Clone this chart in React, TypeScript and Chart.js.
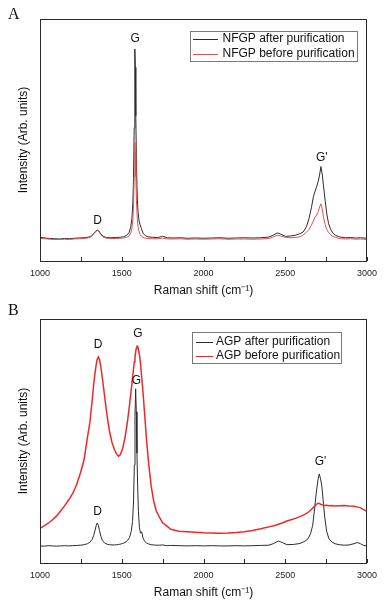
import React, { useEffect, useRef } from 'react';
import { Chart, registerables } from 'chart.js';

Chart.register(...registerables);

// ---------- data ----------
const tickLabels = ['1000', '1500', '2000', '2500', '3000'];

const ramanA = [1000, 1030, 1060, 1090, 1120, 1150, 1180, 1210, 1240, 1270,
  1300, 1315, 1330, 1340, 1350, 1360, 1370, 1385, 1400, 1430,
  1460, 1490, 1510, 1530, 1545, 1555, 1562, 1568, 1572, 1576,
  1579, 1581, 1583, 1586, 1590, 1595, 1600, 1606, 1612, 1620,
  1630, 1645, 1660, 1690, 1720, 1750, 1780, 1820, 1860, 1900,
  1950, 2000, 2050, 2100, 2150, 2200, 2250, 2300, 2350, 2400,
  2430, 2450, 2470, 2500, 2530, 2560, 2590, 2610, 2630, 2645,
  2660, 2672, 2682, 2692, 2702, 2710, 2718, 2726, 2734, 2744,
  2754, 2765, 2778, 2792, 2806, 2825, 2845, 2870, 2900, 2930,
  2960, 3000];

const nfgpAfter = [9.8, 9.5, 9.3, 9.2, 9.1, 9.3, 9.2, 9.4, 9.5, 9.6,
  9.9, 10.4, 11.4, 12.3, 12.8, 12.4, 11.3, 10.3, 9.8, 9.6,
  9.7, 9.8, 10.0, 10.6, 11.8, 14.0, 17.5, 24, 34, 55,
  78, 87.6, 80, 60, 40, 26, 20, 16.5, 15, 13.5,
  11.5, 10.4, 10.0, 9.8, 9.7, 10.2, 9.6, 9.5, 9.6, 9.4,
  9.5, 9.4, 9.5, 9.6, 9.4, 9.5, 9.6, 9.5, 9.6, 9.9,
  10.8, 11.6, 11.2, 10.2, 10.3, 10.6, 11.3, 12.0, 14.2, 17.5,
  22, 26.5, 28.8, 30.7, 33, 35.5, 39, 36, 31, 25,
  19.5, 15.5, 13, 11.5, 10.7, 10.1, 9.8, 9.6, 9.7, 9.5,
  9.6, 9.4];

const nfgpBefore = [9.4, 9.2, 9.0, 8.9, 8.9, 9.0, 8.9, 9.1, 9.2, 9.3,
  9.6, 10.2, 11.2, 12.1, 12.6, 12.2, 11.0, 10.0, 9.5, 9.3,
  9.3, 9.4, 9.5, 9.8, 10.4, 11.5, 13.5, 17, 23, 35,
  46, 49, 45, 35, 25, 17.5, 14, 12, 11, 10.3,
  9.8, 9.4, 9.3, 9.2, 9.2, 9.4, 9.1, 9.1, 9.2, 9.0,
  9.1, 9.0, 9.1, 9.2, 9.0, 9.1, 9.1, 9.0, 9.1, 9.3,
  10.0, 10.6, 10.4, 9.8, 9.6, 9.7, 10.0, 10.8, 11.9, 13.0,
  14.8, 16.5, 18.2, 19.0, 20.5, 22.3, 23.6, 21.5, 18, 15,
  13, 11.8, 10.8, 10.2, 9.8, 9.4, 9.2, 9.1, 9.2, 9.0,
  9.1, 8.9];

const ramanB = [1000, 1025, 1050, 1075, 1100, 1125, 1150, 1175, 1200, 1225,
  1250, 1270, 1290, 1305, 1318, 1328, 1336, 1343, 1350, 1357,
  1364, 1372, 1382, 1395, 1410, 1425, 1440, 1455, 1470, 1480,
  1490, 1505, 1520, 1535, 1548, 1558, 1566, 1572, 1577, 1581,
  1585, 1589, 1593, 1597, 1602, 1608, 1615, 1622, 1630, 1640,
  1652, 1665, 1680, 1695, 1710, 1730, 1750, 1775, 1800, 1850,
  1900, 1950, 2000, 2050, 2100, 2150, 2200, 2250, 2300, 2350,
  2400, 2430, 2458, 2485, 2510, 2550, 2590, 2620, 2640, 2655,
  2668, 2680, 2690, 2700, 2708, 2716, 2724, 2732, 2742, 2754,
  2768, 2785, 2805, 2830, 2860, 2890, 2920, 2940, 2960, 2980,
  3000];

const agpAfter = [7.0, 6.9, 7.1, 7.0, 6.9, 7.0, 7.1, 7.0, 7.1, 7.2,
  7.3, 7.5, 7.9, 8.5, 9.6, 11.2, 13.2, 15.2, 16.4, 15.5,
  13.3, 11.0, 9.2, 8.2, 7.7, 7.5, 7.4, 7.4, 7.5, 7.6,
  7.7, 8.0, 8.4, 9.2, 10.5, 13, 17, 25, 40, 60,
  71.4, 62, 45, 32, 21, 14.5, 12.2, 12.8, 10.2, 8.9,
  8.2, 7.8, 7.5, 7.4, 7.3, 7.3, 7.4, 7.1, 7.2, 7.1,
  7.0, 7.1, 7.0, 7.1, 7.0, 7.0, 7.1, 7.0, 7.1, 7.2,
  7.3, 8.0, 9.0, 8.3, 7.5, 7.6, 8.0, 8.9, 10.0, 12.0,
  15.5, 22.5, 29, 34, 36.5, 34.5, 31.5, 25.5, 18.5, 12.8,
  9.8, 8.6, 7.9, 7.5, 7.3, 7.4, 7.9, 8.4, 7.9, 7.2,
  7.0];

const agpBefore = [14.2, 15.2, 16.3, 17.6, 19.2, 21.2, 23.4, 25.8, 28.5, 32.3,
  37.5, 42.5, 51.5, 57.5, 66, 73, 77.5, 81, 83.5, 84.4,
  83.3, 80.5, 75.5, 68.5, 60.5, 54, 49.5, 46.5, 44.5, 43.8,
  44.3, 46.8, 51.4, 58, 65, 71, 76, 79.5, 82.5, 84.5,
  86.5, 88, 88.8, 88.8, 87.5, 85.5, 81.5, 76, 70, 61,
  50, 40.5, 31.5, 25.5, 21.5, 18.8, 16.5, 15.2, 13.8, 13.0,
  12.8, 12.6, 12.4, 12.3, 12.2, 12.3, 12.5, 12.8, 13.3, 14.0,
  14.8, 15.3, 15.9, 16.5, 17.2, 18.0, 19.0, 19.9, 20.8, 21.6,
  22.5, 23.3, 24.0, 24.5, 24.4, 24.1, 23.9, 23.8, 23.6, 23.7,
  23.5, 23.6, 23.4, 23.5, 23.6, 23.4, 23.3, 23.0, 22.6, 21.9,
  21.2];

const markersA = [
  { text: 'D', x: 1352, y: 16.7 },
  { text: 'G', x: 1582, y: 91.7 },
  { text: "G'", x: 2723, y: 42.8 },
];

const markersB = [
  { text: 'D', x: 1356, y: 89.4 },
  { text: 'G', x: 1599, y: 94.1 },
  { text: 'G', x: 1590, y: 74.8 },
  { text: 'D', x: 1352, y: 20.9 },
  { text: "G'", x: 2716, y: 41.5 },
];

// ---------- rendering ----------
const FONT = '"Liberation Sans", Arial, Helvetica, sans-serif';
const SERIF = '"Liberation Serif", "Times New Roman", serif';

type Series = { label: string; values: number[]; color: string; width: number };
type Marker = { text: string; x: number; y: number };
type LegendLayout = {
  left: number; top: number; right: number; bottom: number;
  rows: number[]; lineX1: number; lineX2: number; textX: number;
};

type PanelProps = {
  letter: string;
  letterBaseline: number;
  xs: number[];
  series: Series[];
  markers: Marker[];
  legend: LegendLayout;
  height: number;
};

function Panel({ letter, letterBaseline, xs, series, markers, legend, height }: PanelProps) {
  const ref = useRef<HTMLCanvasElement>(null);

  useEffect(() => {
    const canvas = ref.current;
    if (!canvas) return;

    const decor = {
      id: 'decor',
      afterDraw(chart: any) {
        const ctx = chart.ctx as CanvasRenderingContext2D;
        const { left, right, top, bottom } = chart.chartArea;
        const xScale = chart.scales.x;
        const yScale = chart.scales.y;
        ctx.save();
        // frame
        ctx.strokeStyle = '#2a2a2a';
        ctx.lineWidth = 1;
        ctx.strokeRect(Math.round(left) + 0.5, Math.round(top) + 0.5,
          Math.round(right - left) - 1, Math.round(bottom - top));
        // inward ticks
        ctx.beginPath();
        for (const t of xScale.ticks) {
          const px = Math.round(xScale.getPixelForValue(t.value)) + 0.5;
          ctx.moveTo(px, Math.round(bottom));
          ctx.lineTo(px, Math.round(bottom) - 4);
        }
        ctx.stroke();
        // markers
        ctx.fillStyle = '#111';
        ctx.font = `12px ${FONT}`;
        ctx.textAlign = 'center';
        ctx.textBaseline = 'middle';
        for (const m of markers) {
          ctx.fillText(m.text, xScale.getPixelForValue(m.x), yScale.getPixelForValue(m.y));
        }
        // legend
        ctx.strokeStyle = '#7a7a7a';
        ctx.lineWidth = 1;
        ctx.strokeRect(legend.left + 0.5, legend.top + 0.5,
          legend.right - legend.left, legend.bottom - legend.top);
        ctx.textAlign = 'left';
        ctx.font = `12px ${FONT}`;
        series.forEach((s, i) => {
          const y = legend.rows[i];
          ctx.strokeStyle = s.color;
          ctx.lineWidth = 1;
          ctx.beginPath();
          ctx.moveTo(legend.lineX1, Math.round(y) + 0.5);
          ctx.lineTo(legend.lineX2, Math.round(y) + 0.5);
          ctx.stroke();
          ctx.fillStyle = '#111';
          ctx.fillText(s.label, legend.textX, y);
        });
        // panel letter
        ctx.fillStyle = '#111';
        ctx.font = `16px ${SERIF}`;
        ctx.textBaseline = 'alphabetic';
        ctx.fillText(letter, 8, letterBaseline);
        ctx.restore();
      },
    };

    const chart = new Chart(canvas, {
      type: 'line',
      data: {
        datasets: series.map((s, i) => ({
          label: s.label,
          data: xs.map((x, k) => ({ x, y: s.values[k] })),
          borderColor: s.color,
          borderWidth: s.width,
          pointRadius: 0,
          tension: 0,
          fill: false,
          order: series.length - i,
        })),
      },
      options: {
        responsive: false,
        animation: false,
        devicePixelRatio: 1,
        layout: { padding: { top: 19, right: 18, left: 0, bottom: 0 } },
        plugins: { legend: { display: false }, tooltip: { enabled: false } },
        scales: {
          x: {
            type: 'linear',
            min: 1000,
            max: 3000,
            afterFit: (s: any) => { s.height = 39; s.paddingLeft = 0; s.paddingRight = 0; },
            ticks: {
              stepSize: 250,
              autoSkip: false,
              maxRotation: 0,
              padding: 7,
              color: '#222',
              font: { family: FONT, size: 9 },
              callback: (v: any) => (tickLabels.includes(String(v)) ? String(v) : ''),
            },
            grid: { display: false, drawTicks: false },
            border: { display: false },
            title: {
              display: true,
              text: 'Raman shift (cm\u207B\u00B9)',
              color: '#111',
              font: { family: FONT, size: 12 },
              padding: { top: 0, bottom: 2 },
            },
          },
          y: {
            min: 0,
            max: 100,
            afterFit: (s: any) => { s.width = 40; },
            ticks: { display: false },
            grid: { display: false, drawTicks: false },
            border: { display: false },
            title: {
              display: true,
              text: 'Intensity (Arb. units)',
              color: '#111',
              font: { family: FONT, size: 12 },
              padding: { top: 16, bottom: 0 },
            },
          },
        },
      },
      plugins: [decor],
    } as any);

    return () => chart.destroy();
  }, []);

  return <canvas ref={ref} width={385} height={height} style={{ display: 'block' }} />;
}

export default function App() {
  return (
    <div style={{ position: 'absolute', left: 0, top: 0, width: 385, height: 602, background: '#fff' }}>
      <Panel
        letter="A"
        letterBaseline={18.5}
        xs={ramanA}
        height={300}
        series={[
          { label: 'NFGP after purification', values: nfgpAfter, color: '#2b2b2b', width: 1 },
          { label: 'NFGP before purification', values: nfgpBefore, color: '#e05050', width: 1 },
        ]}
        markers={markersA}
        legend={{ left: 190, top: 31, right: 357, bottom: 61, rows: [38.5, 53.5], lineX1: 193, lineX2: 218, textX: 222.5 }}
      />
      <Panel
        letter="B"
        letterBaseline={15}
        xs={ramanB}
        height={302}
        series={[
          { label: 'AGP after purification', values: agpAfter, color: '#2b2b2b', width: 1 },
          { label: 'AGP before purification', values: agpBefore, color: '#ea2a2a', width: 1.5 },
        ]}
        markers={markersB}
        legend={{ left: 192, top: 32, right: 341, bottom: 63, rows: [41.7, 55.7], lineX1: 196, lineX2: 213, textX: 216 }}
      />
    </div>
  );
}
